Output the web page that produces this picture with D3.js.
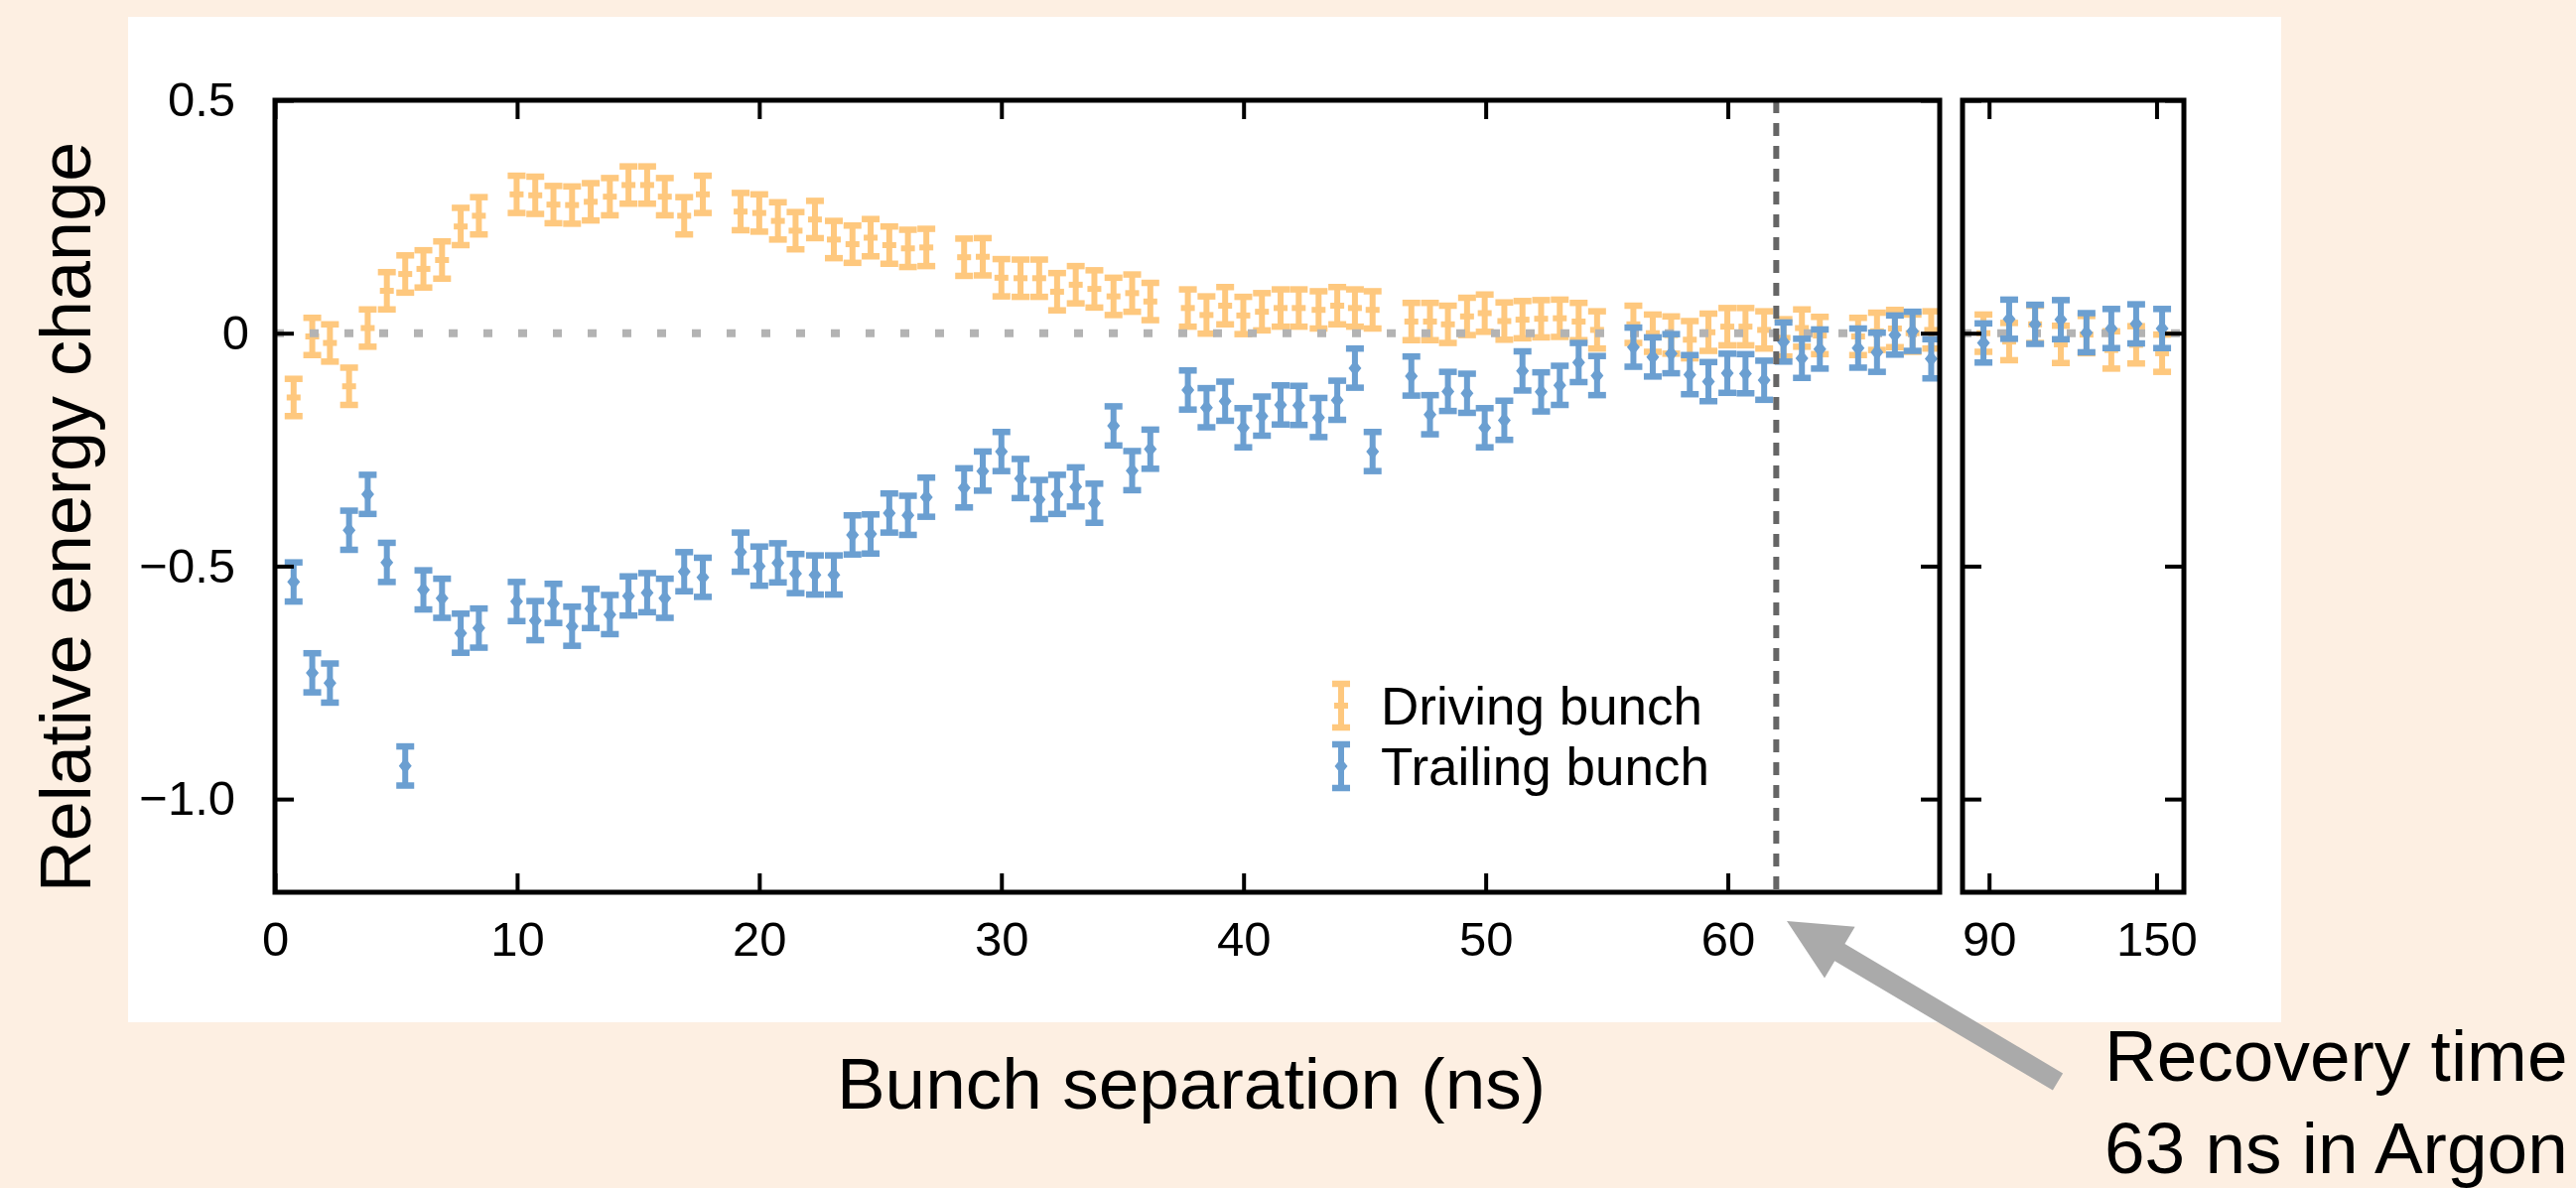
<!DOCTYPE html>
<html>
<head>
<meta charset="utf-8">
<script src="https://cdn.jsdelivr.net/npm/d3@7"></script>
<style>
  body { margin: 0; background: #fdefe2; }
  text { font-family: "Liberation Sans", Arial, sans-serif; fill: #000; }
</style>
</head>
<body>
<script>
// bunch separation in ns (main panel)
var separation = [0.77, 1.54, 2.27, 3.06, 3.83, 4.62, 5.38, 6.13, 6.9, 7.67, 8.42,
    9.98, 10.75, 11.5, 12.27, 13.04, 13.83, 14.6, 15.37, 16.1, 16.9, 17.67,
    19.23, 20.0, 20.77, 21.5, 22.3, 23.08, 23.85, 24.6, 25.37, 26.14, 26.9,
    28.46, 29.23, 30.0, 30.79, 31.56, 32.3, 33.07, 33.84, 34.63, 35.4, 36.15,
    37.7, 38.47, 39.24, 39.99, 40.76, 41.53, 42.28, 43.1, 43.87, 44.6, 45.33,
    46.93, 47.7, 48.44, 49.23, 49.96, 50.77, 51.52, 52.29, 53.06, 53.84, 54.6,
    56.1, 56.9, 57.66, 58.43, 59.2, 59.98, 60.73, 61.5, 62.3, 63.06, 63.8,
    65.38, 66.16, 66.9, 67.63, 68.4];

var drivingBunch = [-0.138, -0.007, -0.021, -0.114, 0.011, 0.091, 0.127, 0.138, 0.157, 0.229, 0.252,
    0.298, 0.296, 0.276, 0.275, 0.282, 0.293, 0.318, 0.318, 0.293, 0.252, 0.298,
    0.261, 0.258, 0.241, 0.22, 0.244, 0.201, 0.191, 0.205, 0.189, 0.182, 0.184,
    0.163, 0.164, 0.119, 0.118, 0.118, 0.089, 0.104, 0.095, 0.079, 0.086, 0.068,
    0.054, 0.039, 0.059, 0.038, 0.046, 0.054, 0.054, 0.05, 0.059, 0.054, 0.05,
    0.025, 0.025, 0.019, 0.036, 0.043, 0.026, 0.029, 0.031, 0.032, 0.025, 0.007,
    0.019, 0.0, -0.004, -0.014, 0.002, 0.014, 0.014, 0.007, -0.01, 0.011, -0.005,
    -0.007, 0.004, 0.01, 0.0, 0.007];

var trailingBunch = [-0.534, -0.729, -0.751, -0.423, -0.346, -0.492, -0.929, -0.551, -0.569, -0.644, -0.633,
    -0.576, -0.617, -0.58, -0.629, -0.591, -0.604, -0.564, -0.557, -0.569, -0.512, -0.524,
    -0.47, -0.5, -0.493, -0.516, -0.519, -0.519, -0.433, -0.431, -0.386, -0.391, -0.352,
    -0.332, -0.296, -0.254, -0.312, -0.357, -0.346, -0.33, -0.365, -0.199, -0.295, -0.249,
    -0.122, -0.16, -0.146, -0.203, -0.178, -0.154, -0.155, -0.181, -0.144, -0.075, -0.254,
    -0.092, -0.175, -0.125, -0.129, -0.203, -0.187, -0.081, -0.126, -0.112, -0.063, -0.091,
    -0.03, -0.051, -0.044, -0.089, -0.104, -0.086, -0.087, -0.101, -0.019, -0.054, -0.034,
    -0.032, -0.041, -0.004, 0.004, -0.055];

// long separations (right panel)
var tailSeparation = [88.0, 97.2, 106.5, 115.7, 124.9, 133.8, 142.7, 152.0];
var tailDriving = [0.0, -0.018, 0.019, -0.024, -0.003, -0.036, -0.025, -0.043];
var tailTrailing = [-0.021, 0.03, 0.019, 0.029, 0.001, 0.01, 0.02, 0.01];

var errDriving = 0.04;
var errTrailing = 0.042;

var mainTicks = [0, 10, 20, 30, 40, 50, 60];
var tailTicks = [90, 150];
var yTicks = [0.5, 0, -0.5, -1.0];
var recoveryTime = 62;

var orange = "#fec87e", blue = "#6b9fd1";

const canvWidth = 2595, canvHeight = 1197;
const frame = {left: 277, right: 1954, top: 101, bottom: 899};
const tail = {left: 1977, right: 2200};

const svg = d3.select("body").append("svg")
    .attr("width", canvWidth)
    .attr("height", canvHeight);

// white card behind the chart
svg.append("rect")
    .attr("x", 129).attr("y", 17)
    .attr("width", 2298 - 129).attr("height", 1030 - 17)
    .attr("fill", "#fff");

const xScale = d3.scaleLinear().domain([0, 68.75]).range([frame.left, frame.right]);
const xTail = d3.scaleLinear().domain([80.5, 159.8]).range([tail.left, tail.right]);
const yScale = d3.scaleLinear().domain([-1.2, 0.5]).range([frame.bottom, frame.top]);

const defs = svg.append("defs");
defs.append("clipPath").attr("id", "clipMain").append("rect")
    .attr("x", frame.left).attr("y", frame.top)
    .attr("width", frame.right - frame.left).attr("height", frame.bottom - frame.top);
defs.append("clipPath").attr("id", "clipTail").append("rect")
    .attr("x", tail.left).attr("y", frame.top)
    .attr("width", tail.right - tail.left).attr("height", frame.bottom - frame.top);

const mainG = svg.append("g").attr("clip-path", "url(#clipMain)");
const tailG = svg.append("g").attr("clip-path", "url(#clipTail)");

// one "I" shaped error bar glyph
function glyph(sel, yTop, yBot, yMid, color, kind) {
    sel.append("line").attr("x1", 0).attr("x2", 0)
        .attr("y1", yTop).attr("y2", yBot)
        .attr("stroke", color).attr("stroke-width", 6);
    [yTop, yBot].forEach(function(yy) {
        sel.append("line").attr("x1", -9).attr("x2", 9)
            .attr("y1", yy).attr("y2", yy)
            .attr("stroke", color).attr("stroke-width", 6.5);
    });
    if (kind == "bar") {
        sel.append("rect").attr("x", -7).attr("y", yMid - 3)
            .attr("width", 14).attr("height", 6).attr("fill", color);
    } else {
        sel.append("path")
            .attr("d", "M0," + (yMid - 8) + "L6.5," + yMid + "L0," + (yMid + 8) + "L-6.5," + yMid + "Z")
            .attr("fill", color);
    }
}

function errorBars(parent, xs, ys, err, xs_scale, color, kind) {
    var pts = xs.map(function(x, i) { return {x: x, y: ys[i]}; });
    parent.append("g").selectAll("g")
        .data(pts)
        .enter().append("g")
        .attr("transform", d => "translate(" + xs_scale(d.x) + ",0)")
        .each(function(d) {
            glyph(d3.select(this), yScale(d.y + err), yScale(d.y - err), yScale(d.y), color, kind);
        });
}

function zeroLine(parent, x1, x2) {
    parent.append("line")
        .attr("x1", x1).attr("x2", x2)
        .attr("y1", yScale(0)).attr("y2", yScale(0))
        .attr("stroke", "#b3b3b3").attr("stroke-width", 8)
        .attr("stroke-dasharray", "9,26");
}

errorBars(mainG, separation, drivingBunch, errDriving, xScale, orange, "bar");
errorBars(tailG, tailSeparation, tailDriving, errDriving, xTail, orange, "bar");
zeroLine(mainG, frame.left, frame.right);
zeroLine(tailG, tail.left, tail.right);
errorBars(mainG, separation, trailingBunch, errTrailing, xScale, blue, "diamond");
errorBars(tailG, tailSeparation, tailTrailing, errTrailing, xTail, blue, "diamond");

// recovery time marker
mainG.append("line")
    .attr("x1", xScale(recoveryTime)).attr("x2", xScale(recoveryTime))
    .attr("y1", frame.top).attr("y2", frame.bottom)
    .attr("stroke", "#666").attr("stroke-width", 6)
    .attr("stroke-dasharray", "13,10");

// frames
[[frame.left, frame.right], [tail.left, tail.right]].forEach(function(p) {
    svg.append("rect")
        .attr("x", p[0]).attr("y", frame.top)
        .attr("width", p[1] - p[0]).attr("height", frame.bottom - frame.top)
        .attr("fill", "none").attr("stroke", "#000").attr("stroke-width", 5);
});

function styleAxis(g) {
    g.select(".domain").remove();
    g.selectAll(".tick line").attr("stroke", "#000").attr("stroke-width", 4);
    g.selectAll(".tick text")
        .attr("font-size", "49px")
        .attr("font-family", "Liberation Sans, Arial, sans-serif")
        .attr("fill", "#000");
}

var yFmt = d => d === 0 ? "0" : d3.format(".1f")(d);

// main panel axes
svg.append("g").attr("transform", "translate(0," + frame.bottom + ")")
    .call(d3.axisBottom(xScale).tickValues(mainTicks).tickSize(-19).tickPadding(29))
    .call(styleAxis);
svg.append("g").attr("transform", "translate(0," + frame.top + ")")
    .call(d3.axisTop(xScale).tickValues(mainTicks).tickSize(-19).tickFormat(""))
    .call(styleAxis);
svg.append("g").attr("transform", "translate(" + frame.left + ",0)")
    .call(d3.axisLeft(yScale).tickValues(yTicks).tickSize(-19).tickPadding(40).tickFormat(yFmt))
    .call(styleAxis)
    .selectAll(".tick text").filter(d => d === 0).attr("x", -26);
svg.append("g").attr("transform", "translate(" + frame.right + ",0)")
    .call(d3.axisRight(yScale).tickValues(yTicks).tickSize(-19).tickFormat(""))
    .call(styleAxis);

// right panel axes
svg.append("g").attr("transform", "translate(0," + frame.bottom + ")")
    .call(d3.axisBottom(xTail).tickValues(tailTicks).tickSize(-19).tickPadding(29))
    .call(styleAxis);
svg.append("g").attr("transform", "translate(0," + frame.top + ")")
    .call(d3.axisTop(xTail).tickValues(tailTicks).tickSize(-19).tickFormat(""))
    .call(styleAxis);
svg.append("g").attr("transform", "translate(" + tail.left + ",0)")
    .call(d3.axisLeft(yScale).tickValues(yTicks).tickSize(-19).tickFormat(""))
    .call(styleAxis);
svg.append("g").attr("transform", "translate(" + tail.right + ",0)")
    .call(d3.axisRight(yScale).tickValues(yTicks).tickSize(-19).tickFormat(""))
    .call(styleAxis);

// legend
var legendItems = [
    {label: "Driving bunch", color: orange, kind: "bar", y: 711},
    {label: "Trailing bunch", color: blue, kind: "diamond", y: 772}
];
var legend = svg.append("g");
legendItems.forEach(function(item) {
    var lg = legend.append("g").attr("transform", "translate(1351,0)");
    glyph(lg, item.y - 22, item.y + 22, item.y, item.color, item.kind);
    legend.append("text")
        .attr("x", 1391).attr("y", item.y + 19)
        .attr("font-size", "53px")
        .text(item.label);
});

// axis titles
svg.append("text")
    .attr("transform", "translate(91,521) rotate(-90)")
    .attr("font-size", "72px")
    .style("text-anchor", "middle")
    .text("Relative energy change");

svg.append("text")
    .attr("x", 1200).attr("y", 1117)
    .attr("font-size", "73px")
    .style("text-anchor", "middle")
    .text("Bunch separation (ns)");

// annotation arrow
var tip = [1800, 928], tailEnd = [2073, 1090];
var ang = Math.atan2(tailEnd[1] - tip[1], tailEnd[0] - tip[0]);
var headLen = 62, headW = 30, shaftW = 10;
function pt(along, across) {
    return [tip[0] + along * Math.cos(ang) - across * Math.sin(ang),
            tip[1] + along * Math.sin(ang) + across * Math.cos(ang)];
}
var len = Math.hypot(tailEnd[0] - tip[0], tailEnd[1] - tip[1]);
var arrowPts = [pt(0, 0), pt(headLen, headW), pt(headLen, shaftW), pt(len, shaftW),
    pt(len, -shaftW), pt(headLen, -shaftW), pt(headLen, -headW)];
svg.append("path")
    .attr("d", d3.line()(arrowPts) + "Z")
    .attr("fill", "#aaaaaa");

svg.append("text").attr("x", 2120).attr("y", 1089)
    .attr("font-size", "73px").text("Recovery time");
svg.append("text").attr("x", 2120).attr("y", 1182)
    .attr("font-size", "73px").text("63 ns in Argon");
</script>
</body>
</html>
